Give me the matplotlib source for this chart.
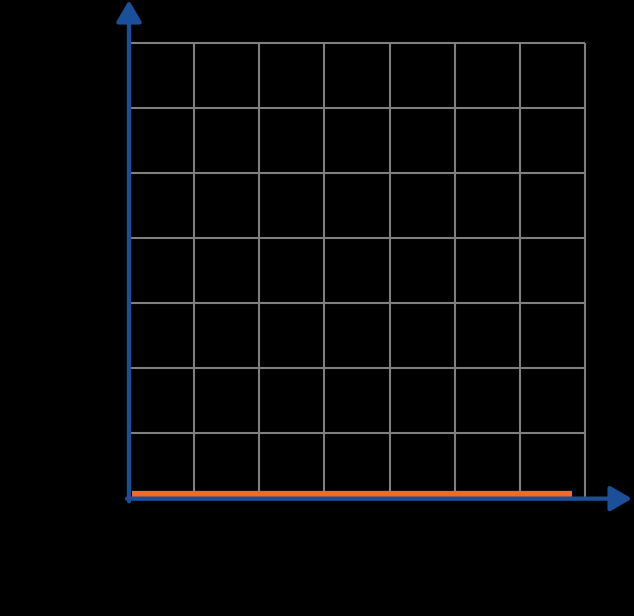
import matplotlib
matplotlib.use('Agg')
import matplotlib.pyplot as plt
import numpy as np

# grid of 7 x 7 cells, one flat series along the bottom
n_cells = 7
series_x = [0.046, 6.80]
series_y = [0.06, 0.06]

blue = '#1c4f9a'
orange = '#f26b21'
grid_col = '#7f7f7f'

fig = plt.figure(figsize=(6.34, 6.16), dpi=100, facecolor='black')
W, H = 634, 616
ax = fig.add_axes([129 / W, (H - 498) / H, (585 - 129) / W, (498 - 43) / H])
ax.set_facecolor('black')
ax.set_xlim(0, n_cells)
ax.set_ylim(0, n_cells)
for s in ax.spines.values():
    s.set_visible(False)
ax.set_xticks([])
ax.set_yticks([])

ticks = np.arange(0, n_cells + 1)
ax.vlines(ticks, 0, n_cells, color=grid_col, lw=1.5, clip_on=False, zorder=1)
ax.hlines(ticks, 0, n_cells, color=grid_col, lw=1.5, clip_on=False, zorder=1)

ax.plot(series_x, series_y, color=orange, lw=4.5, solid_capstyle='butt',
        clip_on=False, zorder=3)

arrow = dict(arrowstyle='-|>,head_length=0.65,head_width=0.38',
             color=blue, lw=3.1, mutation_scale=20, shrinkA=0, shrinkB=0)
ax.annotate('', xy=(7.72, -0.01), xytext=(-0.03, -0.01), arrowprops=arrow,
            annotation_clip=False, zorder=4)
ax.annotate('', xy=(0, 7.66), xytext=(0, -0.05), arrowprops=arrow,
            annotation_clip=False, zorder=4)

fig.savefig('out.png', dpi=100, facecolor='black')
